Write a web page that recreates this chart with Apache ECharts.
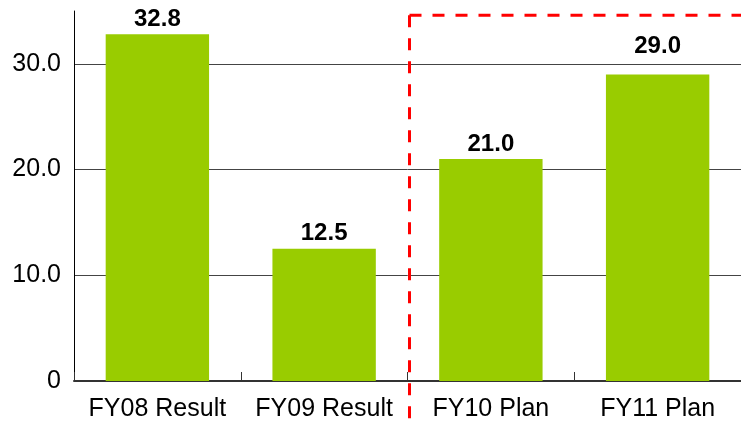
<!DOCTYPE html>
<html>
<head>
<meta charset="utf-8">
<script src="https://cdn.jsdelivr.net/npm/echarts@6/dist/echarts.min.js"></script>
<style>
html,body{margin:0;padding:0;background:#fff;}
#c{width:741px;height:425px;}
</style>
</head>
<body>
<div id="c"></div>
<script>
const categories = ['FY08 Result', 'FY09 Result', 'FY10 Plan', 'FY11 Plan'];
const values = [32.8, 12.5, 21.0, 29.0];
const yTicks = [0, 10, 20, 30];

const FONT = '"Liberation Sans", Arial, sans-serif';
const chart = echarts.init(document.getElementById('c'), null, {renderer: 'canvas'});
chart.setOption({
  animation: false,
  backgroundColor: '#ffffff',
  grid: {left: 74, right: 0, top: 11, bottom: 44, containLabel: false},
  xAxis: {
    type: 'category',
    data: categories,
    axisLine: {lineStyle: {color: '#333333', width: 2}},
    axisTick: {show: true, inside: true, interval: 0, length: 9, lineStyle: {color: '#333333', width: 1}},
    axisLabel: {color: '#000', fontSize: 25, fontFamily: FONT, margin: 16, interval: 0, hideOverlap: false},
    splitLine: {show: false}
  },
  yAxis: {
    type: 'value',
    min: 0, max: 35, interval: 10,
    axisLine: {show: true, lineStyle: {color: '#000', width: 1}},
    axisTick: {show: false},
    axisLabel: {
      color: '#000', fontSize: 25, fontFamily: FONT, margin: 13,
      formatter: function (v) { return yTicks.indexOf(v) < 0 ? '' : (v === 0 ? '0' : v.toFixed(1)); }
    },
    splitLine: {show: true, showMinLine: false, showMaxLine: false, lineStyle: {color: '#444444', width: 1}}
  },
  series: [{
    type: 'bar',
    data: values.map(function (v, i) {
      return i === 3 ? {value: v, label: {distance: 16}} : v;
    }),
    barWidth: '62%',
    itemStyle: {color: '#99cc00'},
    label: {
      show: true, position: 'top', distance: 3,
      color: '#000', fontSize: 24, fontWeight: 'bold', fontFamily: FONT,
      formatter: function (p) { return p.value.toFixed(1); }
    }
  }]
});

// Red dashed "plan" frame, positioned from the axis scale
const xLeft = (chart.convertToPixel({xAxisIndex: 0}, 1) + chart.convertToPixel({xAxisIndex: 0}, 2)) / 2 + 2;
const yTop = chart.convertToPixel({yAxisIndex: 0}, 34.6);
const dashStyle = {stroke: '#ff0000', lineWidth: 3, lineDash: [12, 11], fill: null};
chart.setOption({
  graphic: [
    {type: 'polyline', shape: {points: [[xLeft, yTop], [xLeft, 430]]}, style: dashStyle, z: 100},
    {type: 'polyline', shape: {points: [[xLeft, yTop], [745, yTop]]}, style: dashStyle, z: 100}
  ]
});
</script>
</body>
</html>
